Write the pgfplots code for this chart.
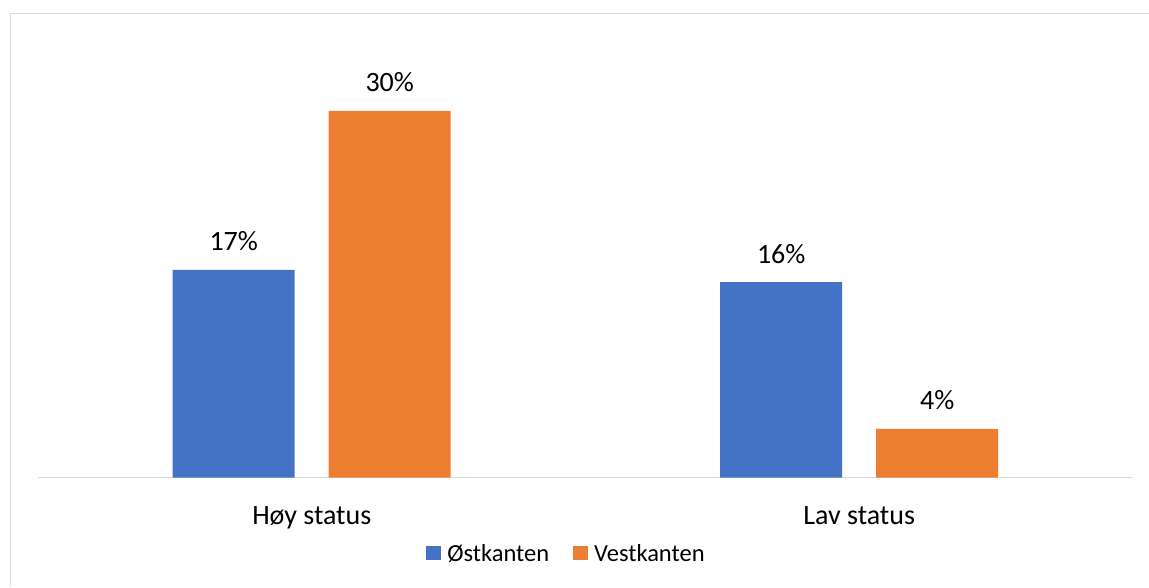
\documentclass[border=0pt]{standalone}
\usepackage{pgfplots}
\pgfplotsset{compat=1.18}
\usepackage{fontspec}
\setmainfont{Carlito}
\definecolor{cblue}{HTML}{4472C4}
\definecolor{corange}{HTML}{ED7D31}
\definecolor{cgray}{HTML}{D9D9D9}
\begin{document}
\begin{tikzpicture}
\useasboundingbox (0,0) rectangle (1149pt,587pt);
\draw[cgray, line width=1.5pt] (10.5pt,0) -- (10.5pt,573.5pt) -- (1149pt,573.5pt);
\begin{axis}[
  at={(38pt,109.3pt)}, anchor=south west,
  scale only axis, width=1095pt, height=428pt,
  xmin=-0.5, xmax=1.5, ymin=0, ymax=35,
  ybar, bar width=122pt,
  axis y line=none,
  axis x line*=bottom,
  x axis line style={cgray, line width=1.5pt, -},
  xtick={0,1}, xticklabels={Høy status, Lav status},
  major tick length=0pt,
  xticklabel style={anchor=base, yshift=-46.5pt, font=\fontsize{28}{34}\selectfont, text=black},
  /pgf/number format/assume math mode=true,
  nodes near coords={\pgfmathprintnumber[fixed,precision=0]{\pgfplotspointmeta}\%},
  every node near coord/.append style={anchor=base, yshift=19pt, font=\fontsize{28}{34}\selectfont, text=black},
  legend image code/.code={\fill[#1] (0pt,-7pt) rectangle (14.4pt,7.4pt); \path (19pt,0pt);},
  legend style={at={(0.4826,-0.177)}, anchor=center, draw=none, fill=none,
    legend columns=-1, font=\fontsize{24.5}{29}\selectfont,
    /tikz/every even column/.append style={column sep=22pt},
    /tikz/every odd column/.append style={column sep=0pt}},
]
\addplot[fill=cblue, draw=none, bar shift=-78pt] coordinates {(0,17) (1,16)};
\addlegendentry{Østkanten}
\addplot[fill=corange, draw=none, bar shift=78pt] coordinates {(0,30) (1,4)};
\addlegendentry{Vestkanten}
\end{axis}
\end{tikzpicture}
\end{document}
